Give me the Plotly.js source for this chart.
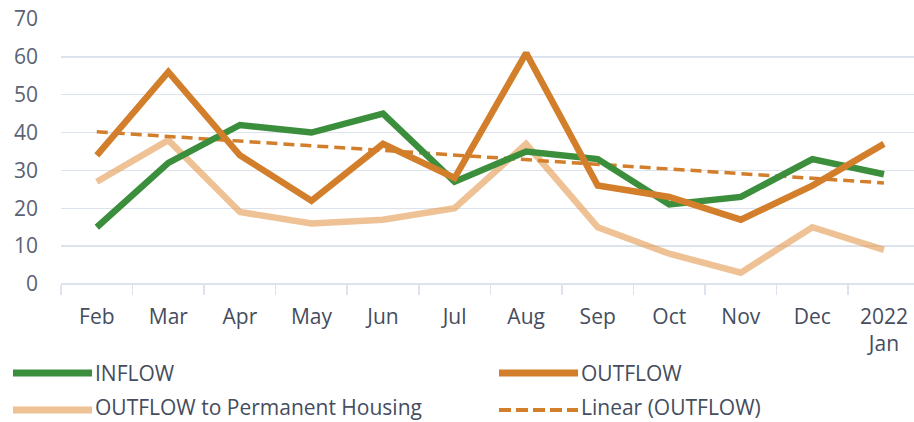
<!DOCTYPE html>
<html>
<head>
<meta charset="utf-8">
<script src="https://cdn.plot.ly/plotly-3.0.1.min.js"></script>
<style>
  html, body { margin: 0; padding: 0; background: #fff; }
  #chart { width: 914px; height: 422px; }
</style>
</head>
<body>
<div id="chart"></div>
<script>
// ---- data ----
var months = ["Feb", "Mar", "Apr", "May", "Jun", "Jul", "Aug", "Sep", "Oct", "Nov", "Dec", "2022<br>Jan"];
var inflow = [15, 32, 42, 40, 45, 27, 35, 33, 21, 23, 33, 29];
var outflow = [34, 56, 34, 22, 37, 28, 61, 26, 23, 17, 26, 37];
var outflowPermanent = [27, 38, 19, 16, 17, 20, 37, 15, 8, 3, 15, 9];
var trendMonths = ["Feb", "2022<br>Jan"];
var trendOutflow = [40.2, 26.7];
var seriesNames = ["INFLOW", "OUTFLOW", "OUTFLOW to Permanent Housing", "Linear (OUTFLOW)"];
var yTicks = [0, 10, 20, 30, 40, 50, 60, 70];

// ---- styles ----
var GREEN = "#3b8e3c";
var ORANGE = "#d27e2b";
var LIGHT = "rgba(228,150,72,0.58)";
var GRID = "#dde3ec";
var FONT = "Open Sans, Liberation Sans, Arial, sans-serif";

var W = 914, H = 422;
var M = {l: 61, r: 0, t: 19, b: 138};
var pw = W - M.l - M.r, ph = H - M.t - M.b;
function px(x) { return (x - M.l) / pw; }
function py(y) { return (H - M.b - y) / ph; }

var traces = [
  {x: months, y: outflowPermanent, type: "scatter", mode: "lines", name: seriesNames[2],
   line: {color: LIGHT, width: 6.5}, hoverinfo: "skip"},
  {x: trendMonths, y: trendOutflow, type: "scatter", mode: "lines", name: seriesNames[3],
   line: {color: ORANGE, width: 3.5, dash: "11px,6px"}, hoverinfo: "skip"},
  {x: months, y: inflow, type: "scatter", mode: "lines", name: seriesNames[0],
   line: {color: GREEN, width: 6.5}, hoverinfo: "skip"},
  {x: months, y: outflow, type: "scatter", mode: "lines", name: seriesNames[1],
   line: {color: ORANGE, width: 6.5}, hoverinfo: "skip"}
];

// custom legend (two columns, long line samples like the reference)
var legendItems = [
  {name: seriesNames[0], x0: 13, x1: 92, y: 373, ty: 373, color: GREEN, width: 7, dash: "solid"},
  {name: seriesNames[1], x0: 499, x1: 578, y: 373, ty: 373, color: ORANGE, width: 7, dash: "solid"},
  {name: seriesNames[2], x0: 13, x1: 92, y: 410, ty: 407, color: LIGHT, width: 7, dash: "solid"},
  {name: seriesNames[3], x0: 499, x1: 578, y: 410, ty: 407, color: ORANGE, width: 4, dash: "12px,5px"}
];
var shapes = [], annotations = [];
legendItems.forEach(function (it) {
  shapes.push({type: "line", xref: "paper", yref: "paper",
    x0: px(it.x0), x1: px(it.x1), y0: py(it.y), y1: py(it.y),
    line: {color: it.color, width: it.width, dash: it.dash}});
  annotations.push({xref: "paper", yref: "paper", x: px(it.x1 + 2), y: py(it.ty),
    xanchor: "left", yanchor: "middle", showarrow: false, text: it.name,
    borderpad: 0,
    font: {family: FONT, size: 21, color: "#454d5e"}});
});

var layout = {
  width: W, height: H,
  margin: M,
  paper_bgcolor: "#ffffff",
  plot_bgcolor: "#ffffff",
  showlegend: false,
  font: {family: FONT, size: 21, color: "#454d5e"},
  xaxis: {
    type: "category",
    range: [-0.5, 11.42],
    showgrid: false,
    zeroline: false,
    showline: false,
    ticks: "outside",
    tickson: "boundaries",
    ticklen: 10,
    tickcolor: GRID,
    tickwidth: 1.5,
    tickfont: {family: FONT, size: 21, color: "#454d5e"},
    ticklabelstandoff: 18,
    fixedrange: true
  },
  yaxis: {
    range: [0, 70],
    tickvals: yTicks,
    ticktext: yTicks.map(String),
    showgrid: true,
    gridcolor: GRID,
    gridwidth: 1.5,
    zeroline: true,
    zerolinecolor: GRID,
    zerolinewidth: 1.5,
    showline: false,
    ticks: "",
    ticklabelstandoff: 22,
    tickfont: {family: FONT, size: 21, color: "#5a6275"},
    fixedrange: true
  },
  shapes: shapes,
  annotations: annotations
};

Plotly.newPlot("chart", traces, layout, {displayModeBar: false, staticPlot: true});
</script>
</body>
</html>
